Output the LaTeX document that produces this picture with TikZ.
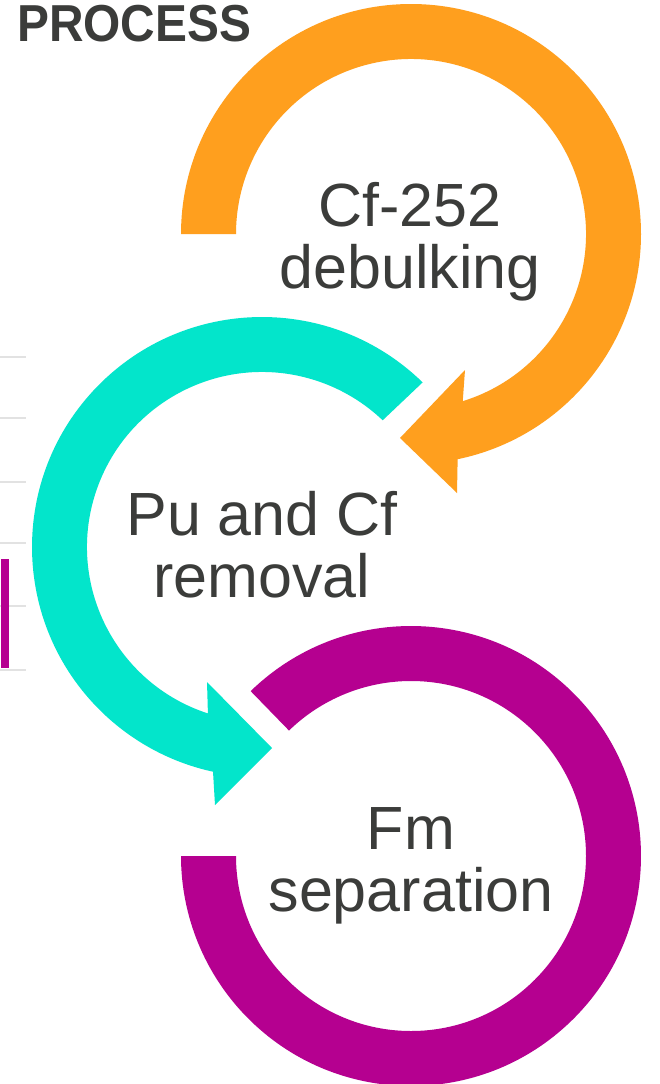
\documentclass[tikz,border=0pt]{standalone}
\usepackage{graphicx}
\usepackage{fontspec}
\setmainfont{Liberation Sans}
\usetikzlibrary{calc}
\definecolor{ringorange}{HTML}{FF9F1E}
\definecolor{ringteal}{HTML}{03E5CB}
\definecolor{ringmagenta}{HTML}{B50090}
\definecolor{inkgray}{HTML}{3B3C3A}
\definecolor{rulegray}{HTML}{E2E2E2}
\begin{document}
\begin{tikzpicture}[x=1pt,y=1pt,
  steplabel/.style={text=inkgray, align=center, inner sep=0pt, anchor=base,
    font=\fontsize{61}{62}\selectfont},
  tickline/.style={draw=rulegray, line width=2pt}]
\useasboundingbox (0,-1084) rectangle (659,0);
\fill[white] (0,-1084) rectangle (659,0);

% short rule ticks and marker on the left edge
\foreach \y in {357,418,482,543,606,670}
  \draw[tickline] (0,-\y) -- (26,-\y);
\fill[ringmagenta] (1,-559) rectangle (9,-668);

% ring centres
\coordinate (c1) at (411,-234);
\coordinate (c2) at (262,-547);
\coordinate (c3) at (411,-856);

% step 1: orange ring ending in an arrow head
\fill[ringorange] ($(c1)+(180:230)$)
  arc[start angle=180, end angle=-78.3, radius=230]
  -- (457,-493) -- (400,-438) -- (465,-370)
  -- ($(c1)+(-72.8:175)$)
  arc[start angle=-72.8, end angle=180, radius=175] -- cycle;

% step 2: teal ring ending in an arrow head
\fill[ringteal] ($(c2)+(45.7:230)$)
  arc[start angle=45.7, end angle=257.7, radius=230]
  -- (215,-805) -- (272,-748) -- (207,-682)
  -- ($(c2)+(252:175)$)
  arc[start angle=252, end angle=46.4, radius=175] -- cycle;

% step 3: magenta ring
\fill[ringmagenta] ($(c3)+(134.2:230)$)
  arc[start angle=134.2, end angle=-180, radius=230]
  -- ($(c3)+(180:175)$)
  arc[start angle=-180, end angle=134.2, radius=175] -- cycle;

% labels (anchored at the baseline of their last line)
\node[steplabel] (lbl1) at (410,-288) {Cf-252\\debulking};
\node[steplabel] (lbl2) at (262,-597) {Pu and Cf\\removal};
\node[steplabel] (lbl3) at (411,-911) {Fm\\separation};

\node[anchor=base west, inner sep=0pt, text=inkgray,
  font=\fontsize{52}{52}\selectfont\bfseries] (title) at (17,-41)
  {\scalebox{0.92}[1]{PROCESS}};
\end{tikzpicture}
\end{document}
